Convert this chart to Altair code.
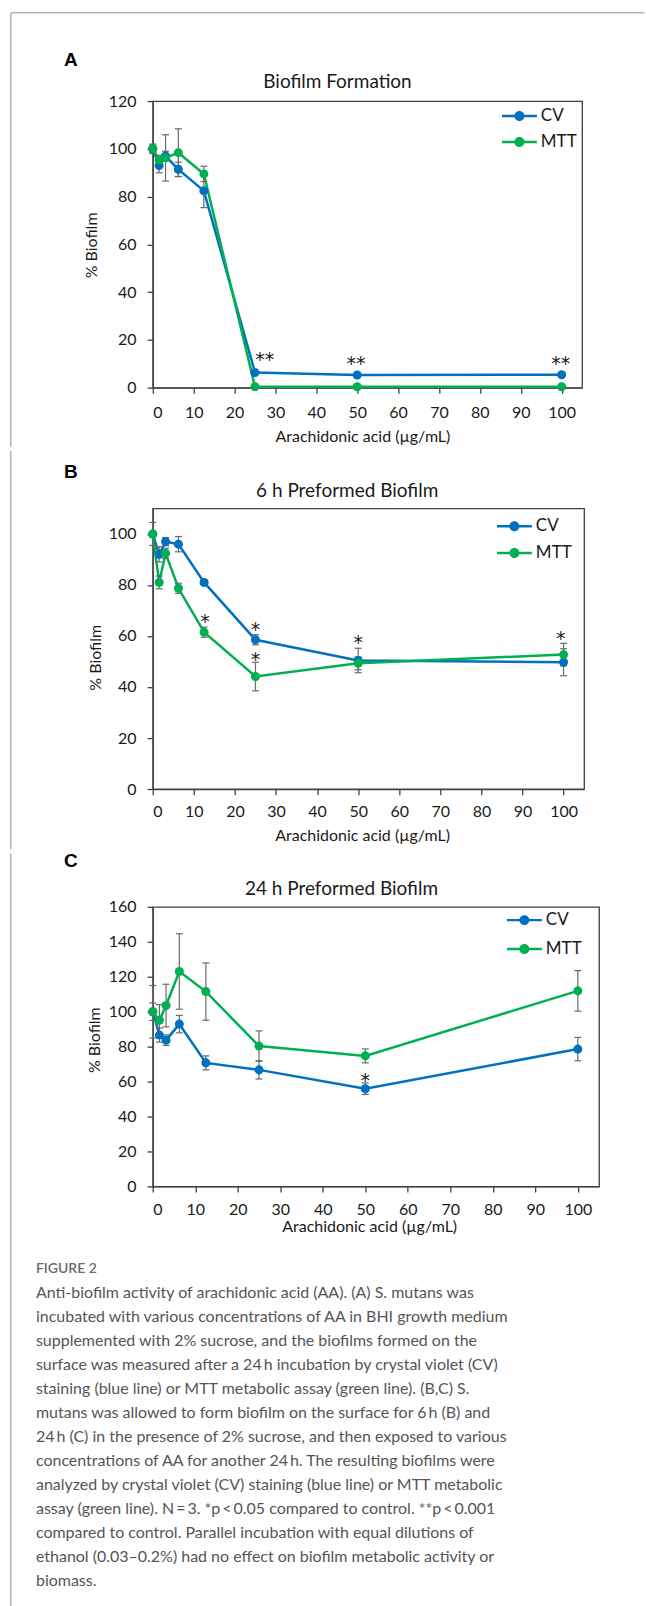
import altair as alt
import pandas as pd

# ---------------- data ----------------
CONC = [0, 1.5625, 3.125, 6.25, 12.5, 25, 50, 100]
SERIES = ["CV", "MTT"]
COLORS = ["#0070C0", "#00B050"]

A_CV = [100, 93.0, 97.0, 91.4, 82.4, 6.3, 5.3, 5.4]
A_CV_ERR = [1.5, 3.0, 2.0, 3.0, 7.0, 0.6, 0.4, 0.4]
A_MTT = [100, 95.3, 96.2, 98.4, 89.5, 0.4, 0.4, 0.4]
A_MTT_ERR = [2.0, 2.0, 9.7, 10.0, 3.2, 0.2, 0.2, 0.2]

B_CV = [100, 92.0, 97.0, 96.0, 81.0, 58.5, 50.4, 49.7]
B_CV_ERR = [4.5, 3.0, 1.6, 3.0, 1.0, 2.0, 4.8, 5.3]
B_MTT = [100, 81.0, 92.4, 78.7, 61.5, 44.1, 49.3, 52.7]
B_MTT_ERR = [0.5, 2.5, 2.0, 2.0, 2.0, 5.6, 2.5, 4.4]

C_CV = [100, 86.6, 83.7, 92.9, 70.7, 66.7, 55.9, 78.6]
C_CV_ERR = [5.0, 4.0, 3.0, 5.0, 4.0, 5.2, 3.3, 6.7]
C_MTT = [100, 95.1, 103.5, 123.0, 111.5, 80.3, 74.7, 111.9]
C_MTT_ERR = [15.0, 9.0, 12.2, 21.6, 16.4, 8.7, 4.0, 11.6]

# significance marks: x, y (value where the mark sits), text
A_STAR_X = [27.4, 49.7, 99.8]
A_STAR_Y = [13.5, 12.1, 12.1]
A_STAR_T = ["**", "**", "**"]
B_STAR_X = [12.7, 25, 25, 50, 99.3]
B_STAR_Y = [67.6, 64.4, 52.6, 59.1, 60.8]
B_STAR_T = ["*", "*", "*", "*", "*"]
C_STAR_X = [50]
C_STAR_Y = [63.3]
C_STAR_T = ["*"]

TITLES = ["Biofilm Formation", "6 h Preformed Biofilm", "24 h Preformed Biofilm"]
LETTERS = ["A", "B", "C"]
X_TITLE = "Arachidonic acid (µg/mL)"
Y_TITLE = "% Biofilm"

CAPTION_HEAD = "FIGURE 2"
CAPTION_LINES = [
    "Anti-biofilm activity of arachidonic acid (AA). (A) S. mutans was",
    "incubated with various concentrations of AA in BHI growth medium",
    "supplemented with 2% sucrose, and the biofilms formed on the",
    "surface was measured after a 24\u2009h incubation by crystal violet (CV)",
    "staining (blue line) or MTT metabolic assay (green line). (B,C) S.",
    "mutans was allowed to form biofilm on the surface for 6\u2009h (B) and",
    "24\u2009h (C) in the presence of 2% sucrose, and then exposed to various",
    "concentrations of AA for another 24\u2009h. The resulting biofilms were",
    "analyzed by crystal violet (CV) staining (blue line) or MTT metabolic",
    "assay (green line). N\u2009=\u20093. *p\u2009<\u20090.05 compared to control. **p\u2009<\u20090.001",
    "compared to control. Parallel incubation with equal dilutions of",
    "ethanol (0.03\u20130.2%) had no effect on biofilm metabolic activity or",
    "biomass.",
]

FONT = "Lato"
TXT = "#1a1a1a"
AXC = "#404040"
ERRC = "#6a6a6a"

# legend symbol: short line with a dot (filled shapes)
SYM = ("M-1,-0.071L1,-0.071L1,0.071L-1,0.071Z "
       "M-0.286,0A0.286,0.286 0 1,1 0.286,0A0.286,0.286 0 1,1 -0.286,0Z")


def long_df(cv, cv_err, mtt, mtt_err):
    rows = []
    for name, vals, errs in (("CV", cv, cv_err), ("MTT", mtt, mtt_err)):
        for c, v, e in zip(CONC, vals, errs):
            rows.append({"conc": c, "value": v, "err": e, "series": name})
    return pd.DataFrame(rows)


def panel(df, sx, sy, st, letter, title, ydom, ystep, W, H, g):
    xs = alt.Scale(domain=[0, 105], nice=False, zero=False)
    ys = alt.Scale(domain=ydom, nice=False)
    xaxis = alt.Axis(values=list(range(0, 101, 10)), title=X_TITLE, grid=False,
                     tickSize=5.7, labelPadding=g["xlp"], titlePadding=g["xtp"],
                     titleX=g["xtx"])
    yaxis = alt.Axis(values=list(range(0, int(ydom[1]) + 1, ystep)), title=Y_TITLE,
                     grid=False, tickSize=5.7, labelPadding=11,
                     titlePadding=g["ytp"], titleY=g["yty"])
    X = alt.X("conc:Q", scale=xs, axis=xaxis)
    base = alt.Chart(df)

    one = pd.DataFrame({"k": [0]})
    frame_v = alt.Chart(one).mark_rule(color="#b4b4b4", strokeWidth=1.5).encode(
        x=alt.value(g["fx"]), y=alt.value(g["fy1"]), y2=alt.value(g["fy2"]))
    layers = [frame_v]
    if g.get("top"):
        frame_h = alt.Chart(one).mark_rule(color="#b4b4b4", strokeWidth=1.5).encode(
            x=alt.value(g["fx"]), x2=alt.value(g["fxr"]), y=alt.value(g["fy1"]))
        layers.append(frame_h)

    scale = alt.Scale(domain=SERIES, range=COLORS)
    leg = alt.Legend(orient="none", legendX=g["lx"], legendY=g["ly"],
                     title=None, symbolType=SYM, symbolSize=1225,
                     symbolStrokeWidth=0, symbolOpacity=1,
                     clipHeight=g["lh"], rowPadding=0, padding=0,
                     labelFont=FONT, labelFontSize=17,
                     labelColor=TXT, labelOffset=4)
    stroke_enc = alt.Stroke("series:N", scale=scale, legend=leg)
    col_enc = alt.Color("series:N", scale=scale, legend=leg)

    lines = base.mark_line(strokeWidth=2.5).encode(
        x=X, y=alt.Y("value:Q", scale=ys, axis=yaxis), stroke=stroke_enc)
    eb = base.transform_calculate(lo="datum.value - datum.err", hi="datum.value + datum.err")
    err = eb.mark_rule(color=ERRC, strokeWidth=1.2).encode(
        x=X, y=alt.Y("lo:Q", scale=ys, axis=yaxis), y2="hi:Q")
    cap_lo = eb.mark_tick(orient="horizontal", size=7, thickness=1.2, color=ERRC, opacity=1).encode(
        x=X, y=alt.Y("lo:Q", scale=ys, axis=yaxis))
    cap_hi = eb.mark_tick(orient="horizontal", size=7, thickness=1.2, color=ERRC, opacity=1).encode(
        x=X, y=alt.Y("hi:Q", scale=ys, axis=yaxis))
    pts = base.mark_circle(size=82, opacity=1).encode(
        x=X, y=alt.Y("value:Q", scale=ys, axis=yaxis), color=col_enc)

    sdf = pd.DataFrame({"conc": sx, "sy": sy, "txt": st})
    stars = alt.Chart(sdf).mark_text(font="DejaVu Sans", fontSize=19, baseline="alphabetic",
                                     dy=11, color=TXT).encode(
        x=X, y=alt.Y("sy:Q", scale=ys, axis=yaxis), text="txt:N")

    ttl = alt.Chart(pd.DataFrame({"t": [title]})).mark_text(
        font=FONT, fontSize=19, color=TXT, baseline="middle", align="center").encode(
        text="t:N", x=alt.value(g["tx"]), y=alt.value(g["ty"]))
    let = alt.Chart(pd.DataFrame({"t": [letter]})).mark_text(
        font="Liberation Sans", fontSize=19, fontWeight="bold", color="#000000",
        baseline="middle", align="center").encode(
        text="t:N", x=alt.value(g["ax"]), y=alt.value(g["ay"]))

    layers += [lines, err, cap_lo, cap_hi, pts, stars, ttl, let]

    if g.get("caption"):
        head = alt.Chart(pd.DataFrame({"t": [CAPTION_HEAD]})).mark_text(
            font=FONT, fontSize=14, fontWeight=600, color="#6b6b6b",
            baseline="alphabetic", align="left").encode(
            text="t:N", x=alt.value(-117), y=alt.value(367))
        body = alt.Chart(pd.DataFrame({"k": [0]})).mark_text(
            font=FONT, fontSize=16, color="#555555", baseline="alphabetic",
            align="left", lineHeight=24).encode(
            text=alt.value(CAPTION_LINES), x=alt.value(-117), y=alt.value(392))
        layers += [head, body]

    return alt.layer(*layers).properties(width=W, height=H)


# all plot areas share the same left edge (x = 152 on the page)
FX = -142.25
geoA = dict(fx=FX, fxr=492.5, fy1=-88.55, fy2=346.7, top=True,
            lx=349.7, ly=2, lh=26, tx=185, ty=-19.3, ax=-82, ay=-41.3,
            xlp=11, xtp=8, xtx=210, ytp=8.5, yty=144)
geoB = dict(fx=FX, fy1=-57.5, fy2=341,
            lx=344.7, ly=4.2, lh=27, tx=194.7, ty=-17, ax=-82, ay=-36.7,
            xlp=9, xtp=8, xtx=209.7, ytp=4.5, yty=149)
geoC = dict(fx=FX, fy1=-53.5, fy2=705, caption=True,
            lx=354.7, ly=-1.2, lh=29, tx=189, ty=-18, ax=-82, ay=-46,
            xlp=9, xtp=1.5, xtx=216.8, ytp=6.3, yty=133)

pa = panel(long_df(A_CV, A_CV_ERR, A_MTT, A_MTT_ERR), A_STAR_X, A_STAR_Y, A_STAR_T,
           LETTERS[0], TITLES[0], [0, 120], 20, 430, 287, geoA)
pb = panel(long_df(B_CV, B_CV_ERR, B_MTT, B_MTT_ERR), B_STAR_X, B_STAR_Y, B_STAR_T,
           LETTERS[1], TITLES[1], [0, 110], 20, 432, 281, geoB)
pc = panel(long_df(C_CV, C_CV_ERR, C_MTT, C_MTT_ERR), C_STAR_X, C_STAR_Y, C_STAR_T,
           LETTERS[2], TITLES[2], [0, 160], 20, 447, 280, geoC)

chart = alt.vconcat(pa, pb, pc, spacing=0).resolve_scale(
    color="independent", stroke="independent").resolve_legend(
    color="independent", stroke="independent").properties(
    padding={"left": 9, "top": 10, "right": 0, "bottom": 0},
    background="white",
).configure_view(stroke=AXC, strokeWidth=1.3).configure_axis(
    domainColor=AXC, domainWidth=1.3, tickColor=AXC, tickWidth=1.3,
    labelFont=FONT, labelFontSize=16, labelColor=TXT,
    titleFont=FONT, titleFontSize=16, titleFontWeight="normal", titleColor=TXT,
)

chart.save("out.html", embed_options={"renderer": "svg", "actions": False})
